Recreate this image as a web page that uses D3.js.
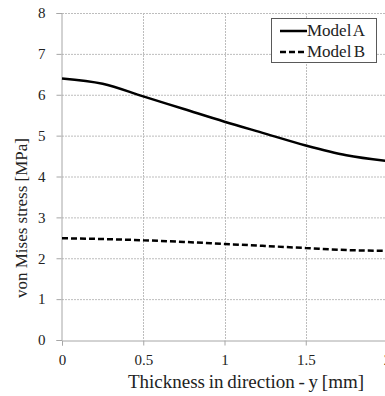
<!DOCTYPE html>
<html>
<head>
<meta charset="utf-8">
<script src="https://cdn.jsdelivr.net/npm/d3@7"></script>
<style>
    body { margin: 0; background: #fff; }
</style>
</head>
<body>
<svg id="chart" width="385" height="396"></svg>
<script>
// data
const thickness = [0, 0.25, 0.5, 0.75, 1, 1.25, 1.5, 1.75, 2];
const modelA = [6.40, 6.27, 5.96, 5.65, 5.34, 5.05, 4.76, 4.52, 4.38];
const modelB = [2.49, 2.47, 2.44, 2.40, 2.35, 2.30, 2.25, 2.20, 2.18];
const xTicks = [0, 0.5, 1, 1.5, 2];
const yTicks = [0, 1, 2, 3, 4, 5, 6, 7, 8];

const FONT = "Liberation Serif";
const svg = d3.select("#chart");
const margin = { left: 62, top: 13 };
const plotW = 325, plotH = 327;

const x = d3.scaleLinear().domain([0, 2]).range([margin.left, margin.left + plotW]);
const y = d3.scaleLinear().domain([0, 8]).range([margin.top + plotH, margin.top]);

// grid
svg.append("g").selectAll("line").data(yTicks.slice(1)).join("line")
    .attr("x1", x(0)).attr("x2", x(2))
    .attr("y1", d => y(d) + 0.5).attr("y2", d => y(d) + 0.5)
    .attr("stroke", "#bdbdbd").attr("stroke-dasharray", "2,1");
svg.append("g").selectAll("line").data(xTicks.slice(1)).join("line")
    .attr("x1", d => Math.round(x(d)) + 0.5).attr("x2", d => Math.round(x(d)) + 0.5)
    .attr("y1", y(8)).attr("y2", y(0))
    .attr("stroke", "#bdbdbd").attr("stroke-dasharray", "2,1");

// axes
const xAxis = svg.append("g")
    .attr("transform", `translate(0,${y(0) + 0.5})`)
    .call(d3.axisBottom(x).tickValues(xTicks).tickSize(5).tickPadding(9).tickFormat(d3.format("")));
const yAxis = svg.append("g")
    .attr("transform", `translate(${x(0) - 0.5},0)`)
    .call(d3.axisLeft(y).tickValues(yTicks).tickSize(5).tickPadding(11));
[xAxis, yAxis].forEach(a => {
    a.attr("font-family", FONT);
    a.select(".domain").attr("stroke", "#a6a6a6");
    a.selectAll(".tick line").attr("stroke", "#a6a6a6");
    a.selectAll("text").attr("font-family", FONT).attr("font-size", 15).attr("fill", "#222");
});
yAxis.selectAll("text").attr("text-anchor", "middle").attr("dx", "-0.25em");

// lines
const line = d3.line().x((d, i) => x(thickness[i])).y(d => y(d)).curve(d3.curveMonotoneX);
svg.append("path").datum(modelA).attr("d", line)
    .attr("fill", "none").attr("stroke", "#000").attr("stroke-width", 2.5);
svg.append("path").datum(modelB).attr("d", line)
    .attr("fill", "none").attr("stroke", "#000").attr("stroke-width", 2.5)
    .attr("stroke-dasharray", "6,3");

// axis titles
svg.append("text").attr("x", 246).attr("y", 388)
    .attr("text-anchor", "middle").attr("font-family", FONT).attr("font-size", 19).attr("fill", "#222")
    .attr("word-spacing", -1)
    .text("Thickness in direction - y [mm]");
svg.append("text").attr("transform", "translate(27,218) rotate(-90)")
    .attr("text-anchor", "middle").attr("font-family", FONT).attr("font-size", 17).attr("fill", "#222")
    .text("von Mises stress [MPa]");

// legend
const legend = svg.append("g");
legend.append("rect").attr("x", 271.5).attr("y", 18.5).attr("width", 105).attr("height", 44)
    .attr("fill", "#fff").attr("stroke", "#595959");
const entries = [["Model A", null, 31], ["Model B", "6,3", 52]];
entries.forEach(([name, dash, ly]) => {
    legend.append("line").attr("x1", 280).attr("x2", 307).attr("y1", ly).attr("y2", ly)
        .attr("stroke", "#000").attr("stroke-width", 2.5).attr("stroke-dasharray", dash);
    legend.append("text").attr("x", 307).attr("y", ly + 5)
        .attr("font-family", FONT).attr("font-size", 17).attr("fill", "#222")
        .attr("word-spacing", -2).text(name);
});
</script>
</body>
</html>
